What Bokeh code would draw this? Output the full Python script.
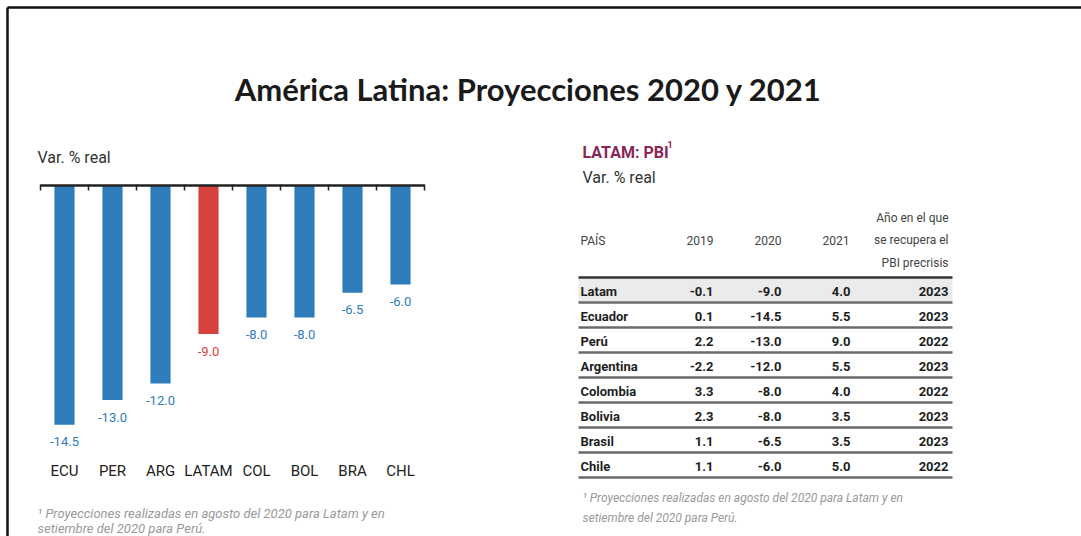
from bokeh.plotting import figure
from bokeh.models import Range1d
from bokeh.core.properties import value
from bokeh.embed import file_html
from bokeh.resources import INLINE

# ---------------- data ----------------
categorias = ["ECU", "PER", "ARG", "LATAM", "COL", "BOL", "BRA", "CHL"]
proy_2020 = [-14.5, -13.0, -12.0, -9.0, -8.0, -8.0, -6.5, -6.0]
destacado = ["LATAM"]

paises = ["Latam", "Ecuador", "Perú", "Argentina", "Colombia", "Bolivia", "Brasil", "Chile"]
v2019 = [-0.1, 0.1, 2.2, -2.2, 3.3, 2.3, 1.1, 1.1]
v2020 = [-9.0, -14.5, -13.0, -12.0, -8.0, -8.0, -6.5, -6.0]
v2021 = [4.0, 5.5, 9.0, 5.5, 4.0, 3.5, 3.5, 5.0]
recupera = [2023, 2023, 2022, 2023, 2022, 2023, 2023, 2022]
encabezados = ["PAÍS", "2019", "2020", "2021"]
encabezado_ult = ["Año en el que", "se recupera el", "PBI precrisis"]

titulo = "América Latina: Proyecciones 2020 y 2021"
subtitulo = "Var. % real"
tabla_titulo = "LATAM: PBI"
nota = ["¹ Proyecciones realizadas en agosto del 2020 para Latam y en",
        "setiembre del 2020 para Perú."]

# ---------------- styles / layout ----------------
W, H = 1081, 536
BLUE = "#2e7dba"
RED = "#d6423d"
MAROON = "#8a2656"
NARROW = "Roboto"

# bar chart geometry (pixel mapping of the main ranges)
x0_px, step_px = 64, 48.0        # centre of first category, category width
zero_px, unit_px = 185, 16.5     # y pixel of zero, pixels per unit

p = figure(width=W, height=H, output_backend="svg", toolbar_location=None,
           x_range=Range1d(-x0_px / step_px, (W - x0_px) / step_px),
           y_range=Range1d((zero_px - H) / unit_px, zero_px / unit_px),
           min_border=0, outline_line_color=None,
           x_axis_type=None, y_axis_type=None)
p.grid.visible = False
p.background_fill_color = "white"
p.border_fill_color = "white"
p.extra_x_ranges = {"px": Range1d(0, W)}
p.extra_y_ranges = {"px": Range1d(H, 0)}

PX = dict(x_range_name="px", y_range_name="px")

# frame
p.segment(x0=[7, 7], y0=[7, 7], x1=[W, 7], y1=[7, H], line_color="#111",
          line_width=2.5, **PX)

# title
p.text(x=[528], y=[88], text=[titulo], text_font=value("Lato"),
       text_font_style="bold", text_font_size="31px", text_color="#1a1a1a",
       text_align="center", text_baseline="middle", **PX)

# ---------------- bar chart ----------------
idx = list(range(len(categorias)))
colores = [RED if c in destacado else BLUE for c in categorias]
p.vbar(x=idx, top=[0] * len(idx), bottom=proy_2020, width=0.42,
       fill_color=colores, line_color=None)

# value labels
etiquetas = ["%.1f" % v for v in proy_2020]
p.text(x=idx, y=proy_2020, text=etiquetas, text_color=colores,
       text_font=value(NARROW), text_font_size="13px", text_align="center",
       text_baseline="middle", y_offset=17)

# zero axis line with ticks between categories
n = len(categorias)
p.segment(x0=[-0.5], y0=[0], x1=[n - 0.5], y1=[0], line_color="#222",
          line_width=2.5)
bordes = [i - 0.5 for i in range(n + 1)]
p.segment(x0=bordes, y0=[zero_px - 1] * len(bordes), x1=bordes,
          y1=[zero_px + 5] * len(bordes), line_color="#222", line_width=1.5,
          y_range_name="px")

# category labels
p.text(x=idx, y=[470] * n, text=categorias, text_color="#222",
       text_font=value(NARROW), text_font_size="15px", text_align="center",
       text_baseline="middle", y_range_name="px")

# y caption
p.text(x=[37], y=[157], text=[subtitulo], text_color="#333",
       text_font=value(NARROW), text_font_size="16px", text_align="left",
       text_baseline="middle", **PX)

# footnote left
p.text(x=[37, 37], y=[513, 528], text=nota, text_color="#9a9a9a",
       text_font=value(NARROW), text_font_style="italic",
       text_font_size="13px", text_align="left", text_baseline="middle", **PX)

# ---------------- table ----------------
tx0, tx1 = 578, 952
p.text(x=[582], y=[152], text=[tabla_titulo], text_color=MAROON,
       text_font=value(NARROW), text_font_style="bold", text_font_size="16px",
       text_align="left", text_baseline="middle", **PX)
p.text(x=[667], y=[144], text=["1"], text_color=MAROON,
       text_font=value(NARROW), text_font_style="bold", text_font_size="9px",
       text_align="left", text_baseline="middle", **PX)
p.text(x=[582], y=[177], text=[subtitulo], text_color="#333",
       text_font=value(NARROW), text_font_size="16px", text_align="left",
       text_baseline="middle", **PX)

# header
col_x = [580, 713, 781, 849]
col_align = ["left", "right", "right", "right"]
for cx, al, t in zip(col_x, col_align, encabezados):
    p.text(x=[cx], y=[240], text=[t], text_color="#444",
           text_font=value(NARROW), text_font_size="12px", text_align=al,
           text_baseline="middle", **PX)
p.text(x=[948] * 3, y=[217, 239, 262], text=encabezado_ult, text_color="#444",
       text_font=value(NARROW), text_font_size="12px", text_align="right",
       text_baseline="middle", **PX)

row_top, row_h = 277, 25
nr = len(paises)
# highlighted first row
p.quad(left=[tx0], right=[tx1], top=[row_top + 1], bottom=[row_top + row_h - 1],
       fill_color="#ebebeb", line_color=None, **PX)
row_y = [row_top + row_h * (i + 0.5) + 1 for i in range(nr)]
cols = [paises, ["%.1f" % v for v in v2019], ["%.1f" % v for v in v2020],
        ["%.1f" % v for v in v2021], [str(v) for v in recupera]]
cols_x = [580, 713, 781, 850, 948]
cols_al = ["left", "right", "right", "right", "right"]
for cx, al, vals in zip(cols_x, cols_al, cols):
    p.text(x=[cx] * nr, y=row_y, text=vals, text_color="#1e1e1e",
           text_font=value(NARROW), text_font_style="bold",
           text_font_size="13px", text_align=al, text_baseline="middle", **PX)

# header rule and row separators
p.segment(x0=[tx0], y0=[row_top], x1=[tx1], y1=[row_top], line_color="#333",
          line_width=2.5, **PX)
sep_y = [row_top + row_h * (i + 1) for i in range(nr)]
p.segment(x0=[tx0] * nr, y0=sep_y, x1=[tx1] * nr, y1=sep_y,
          line_color="#6a6a6a", line_width=2.5, **PX)

# footnote right
p.text(x=[582, 582], y=[497, 517], text=nota, text_color="#9a9a9a",
       text_font=value(NARROW), text_font_style="italic",
       text_font_size="12px", text_align="left", text_baseline="middle", **PX)

open("out.html", "w").write(file_html(p, INLINE))
